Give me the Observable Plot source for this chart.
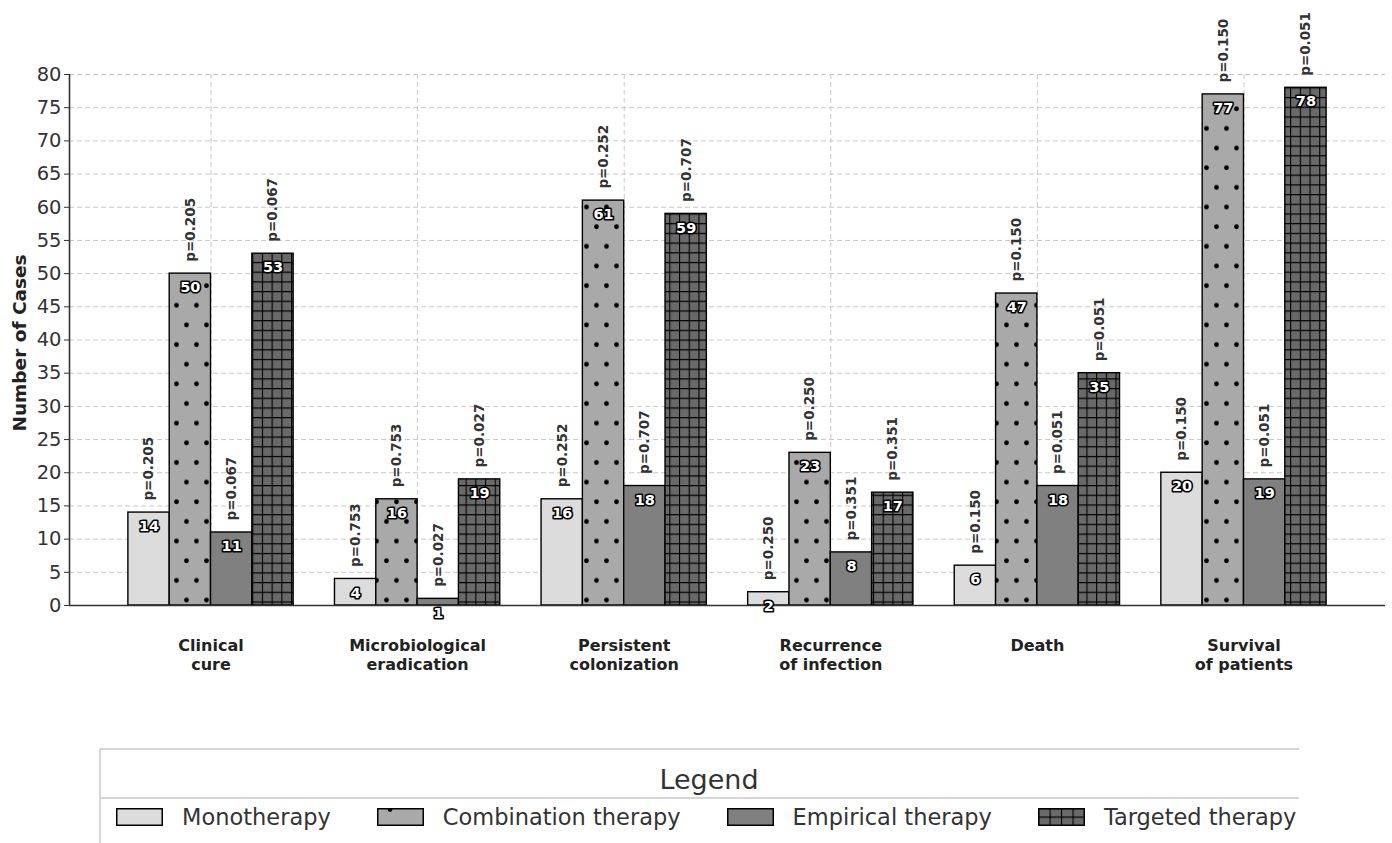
<!DOCTYPE html>
<html><head><meta charset="utf-8">
<script src="https://cdn.jsdelivr.net/npm/d3@7"></script>
<script src="https://cdn.jsdelivr.net/npm/@observablehq/plot@0.6"></script>
<style>
body{margin:0;background:#fff;font-family:"DejaVu Sans",sans-serif;}
#wrap{position:relative;width:1392px;height:843px;overflow:hidden;background:#fff;}
#chart{position:absolute;left:0;top:0;}
#legend{position:absolute;left:99px;top:748px;width:1198px;height:120px;border-top:2px solid #d6d6d6;border-left:2px solid #d6d6d6;}
#legend .title{position:absolute;left:608px;top:14px;transform:translateX(-50%);font-size:27px;color:#333;white-space:nowrap;}
#legend .sep{position:absolute;left:0;top:47px;width:1198px;height:0;border-top:2px solid #d6d6d6;}
#legend .items{position:absolute;left:15px;top:52px;display:flex;align-items:center;white-space:nowrap;}
#legend .item{display:flex;align-items:center;margin-right:46px;}
#legend .item svg{margin-right:19px;display:block;}
#legend .item span{font-size:22.5px;color:#333;line-height:30px;}
</style>
</head><body>
<div id="wrap">
<svg width="0" height="0" style="position:absolute">
  <defs>
    <pattern id="dots" patternUnits="userSpaceOnUse" width="20" height="39.3">
      <rect width="20" height="39.3" fill="#a9a9a9"></rect>
      <circle cx="6.5" cy="10.6" r="2.4" fill="#000"></circle>
      <circle cx="16.5" cy="30.25" r="2.4" fill="#000"></circle>
    </pattern>
    <pattern id="grid" patternUnits="userSpaceOnUse" width="9.7" height="9.7">
      <rect width="9.7" height="9.7" fill="#696969"></rect>
      <path d="M0,0.5H9.7M0.5,0V9.7" stroke="#000" stroke-width="1.2" fill="none"></path>
    </pattern>
    <pattern id="legdots" patternUnits="userSpaceOnUse" width="40" height="39.3">
      <rect width="40" height="39.3" fill="#a9a9a9"></rect>
      <circle cx="13" cy="1.5" r="2.4" fill="#000"></circle>
      <circle cx="46" cy="1.5" r="2.4" fill="#000"></circle>
    </pattern>
    <pattern id="leggrid" patternUnits="userSpaceOnUse" width="11.5" height="8.5">
      <rect width="11.5" height="8.5" fill="#696969"></rect>
      <path d="M0,0.5H11.5M0.5,0V8.5" stroke="#000" stroke-width="1.2" fill="none"></path>
    </pattern>
  </defs>
</svg>
<div id="chart"></div>
<div id="legend">
  <div class="title">Legend</div>
  <div class="sep"></div>
  <div class="items" id="items"></div>
</div>
</div>
<script>
// ---- data ----
const categories = ["Clinical\ncure", "Microbiological\neradication", "Persistent\ncolonization", "Recurrence\nof infection", "Death", "Survival\nof patients"];
const seriesNames = ["Monotherapy", "Combination therapy", "Empirical therapy", "Targeted therapy"];
const monotherapy = [14, 4, 16, 2, 6, 20];
const combination = [50, 16, 61, 23, 47, 77];
const empirical = [11, 1, 18, 8, 18, 19];
const targeted = [53, 19, 59, 17, 35, 78];
const pMonoCombo = ["0.205", "0.753", "0.252", "0.250", "0.150", "0.150"];
const pEmpTarget = ["0.067", "0.027", "0.707", "0.351", "0.051", "0.051"];
const yTicks = [0, 5, 10, 15, 20, 25, 30, 35, 40, 45, 50, 55, 60, 65, 70, 75, 80];

// ---- styles ----
const fills = ["#dcdcdc", "url(#dots)", "#808080", "url(#grid)"];
const legendFills = ["#dcdcdc", "url(#legdots)", "#808080", "url(#leggrid)"];
const barWidth = 0.2;
const xDomain = [-0.685, 5.685];

const seriesValues = [monotherapy, combination, empirical, targeted];
const seriesP = [pMonoCombo, pMonoCombo, pEmpTarget, pEmpTarget];
const rows = seriesValues.map((vals, k) => categories.map((c, i) => ({
  cat: c, i, k,
  x1: i + (k - 2) * barWidth,
  x2: i + (k - 1) * barWidth,
  xc: i + (k - 1.5) * barWidth,
  value: vals[i],
  p: "p=" + seriesP[k][i]
})));
const allRows = rows.flat();

const gridStyle = {stroke: "#c8c8c8", strokeWidth: 1, strokeDasharray: "5,3"};

const chart = Plot.plot({
  width: 1392,
  height: 740,
  marginLeft: 69,
  marginRight: 7,
  marginTop: 74,
  marginBottom: 135,
  style: {fontFamily: "DejaVu Sans", background: "transparent"},
  x: {type: "linear", domain: xDomain, axis: null},
  y: {domain: [0, 80], axis: null},
  marks: [
    Plot.ruleY(yTicks.slice(1), gridStyle),
    Plot.ruleX(categories.map((c, i) => i), gridStyle),
    ...rows.map((data, k) => Plot.rect(data, {
      x1: "x1", x2: "x2", y1: 0, y2: "value",
      fill: fills[k], stroke: "#000", strokeWidth: 1.4
    })),
    Plot.ruleY([0], {stroke: "#333", strokeWidth: 1.6}),
    Plot.ruleX([xDomain[0]], {stroke: "#333", strokeWidth: 1.6}),
    Plot.axisY({ticks: yTicks, tickSize: 5, tickPadding: 3, fontSize: 19.5, color: "#333", label: null}),
    Plot.text(allRows, {
      x: "xc", y: "value", text: d => String(d.value),
      dy: 14, lineAnchor: "middle", fontSize: 14.5, fontWeight: "bold",
      fill: "#fff", stroke: "#000", strokeWidth: 3.2, paintOrder: "stroke", strokeLinejoin: "round"
    }),
    Plot.text(allRows, {
      x: "xc", y: "value", text: "p",
      rotate: -90, textAnchor: "start", lineAnchor: "middle", dy: -12,
      fontSize: 13.5, fontWeight: "bold", fill: "#333"
    }),
    Plot.text(categories, {
      x: (d, i) => i, y: 0, text: d => d,
      lineAnchor: "top", dy: 32, lineHeight: 1.2,
      fontSize: 16, fontWeight: "bold", fill: "#222"
    }),
    Plot.text(["Number of Cases"], {
      frameAnchor: "left", textAnchor: "middle", dx: -49, dy: 3, rotate: -90,
      fontSize: 18.5, fontWeight: "bold", fill: "#222"
    })
  ]
});
document.getElementById("chart").appendChild(chart);

// legend
const items = document.getElementById("items");
seriesNames.forEach((name, k) => {
  const item = document.createElement("div");
  item.className = "item";
  item.innerHTML = `<svg width="47" height="18"><rect x="0.75" y="0.75" width="45.5" height="16.5" fill="${legendFills[k]}" stroke="#000" stroke-width="1.5"></rect></svg><span>${name}</span>`;
  items.appendChild(item);
});
</script>
</body></html>
